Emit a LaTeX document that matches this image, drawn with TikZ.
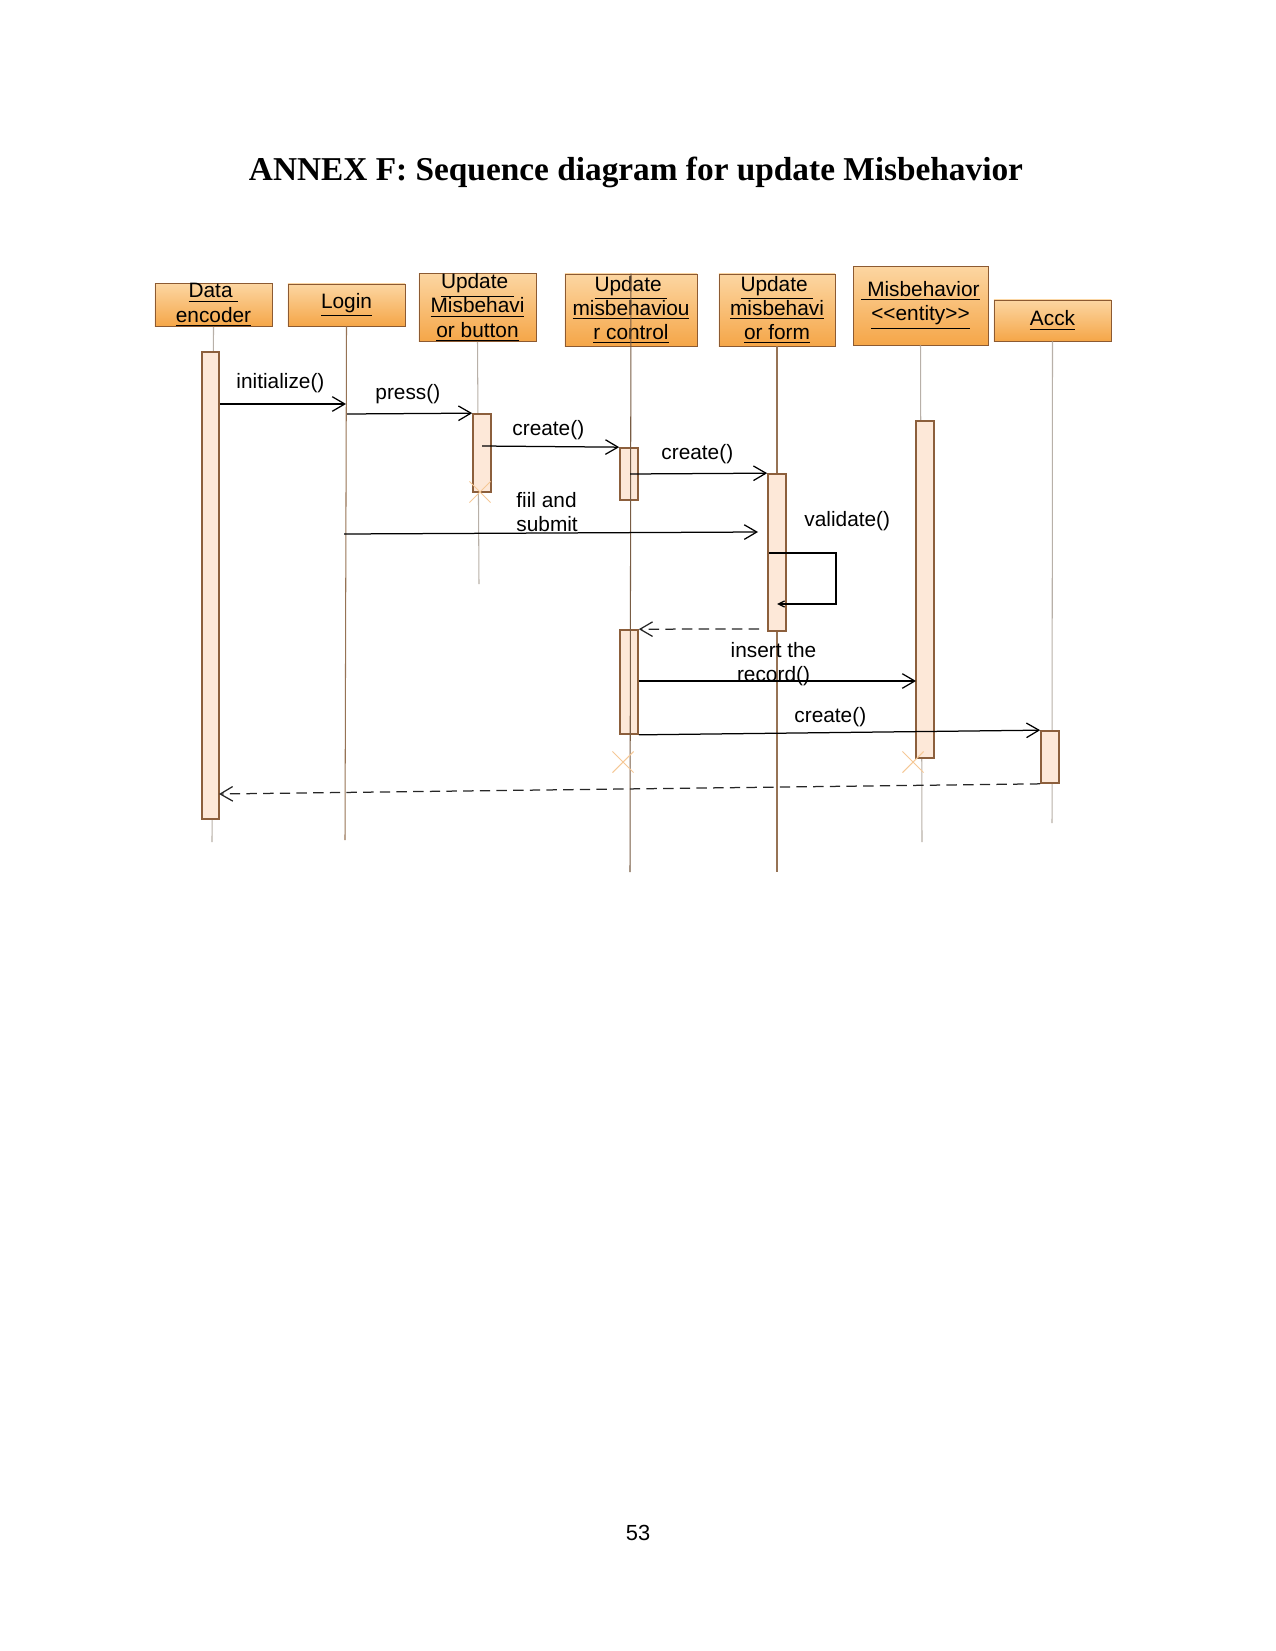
\documentclass[tikz,border=0pt]{standalone}
\usepackage{fontspec}
\setmainfont{Liberation Serif}
\newfontfamily\diafont{Liberation Sans}
\usetikzlibrary{arrows.meta,fit,shapes.misc}

\definecolor{objline}{RGB}{140,90,50}
\definecolor{objtop}{RGB}{252,214,162}
\definecolor{objbot}{RGB}{245,166,72}
\definecolor{actline}{RGB}{140,95,60}
\definecolor{actfill}{RGB}{253,232,216}
\definecolor{lifegrey}{RGB}{184,176,168}
\definecolor{lifebrown}{RGB}{150,115,85}
\definecolor{killmark}{RGB}{245,200,150}

\begin{document}
\begin{tikzpicture}[
  x=0.48pt, y=-0.48pt,
  obj/.style={draw=objline, top color=objtop, bottom color=objbot, inner sep=0pt, align=center, font=\diafont\fontsize{10}{11.6}\selectfont},
  act/.style={draw=actline, fill=actfill, line width=0.8pt, inner sep=0pt},
  life/.style={draw=lifegrey, line width=0.5pt},
  msg/.style={-{Straight Barb[length=6pt,width=7pt]}, line width=0.6pt},
  ret/.style={msg, dash pattern=on 5pt off 3pt, draw=black!85},
  lbl/.style={font=\diafont\fontsize{10}{11.3}\selectfont, inner sep=0pt},
  kill/.style={draw=killmark, cross out, minimum size=9.6pt, inner sep=0pt, line width=0.5pt}
]
\useasboundingbox (0,0) rectangle (1275,1651);

% title and page number
\node[anchor=base, font=\fontsize{16}{19}\selectfont\bfseries] (title) at (636,181) {ANNEX F: Sequence diagram for update Misbehavior};
\node[anchor=base, font=\diafont\fontsize{10.5}{12}\selectfont] (page) at (638,1540) {53};

% objects
\node[obj, minimum width=56.2pt, minimum height=20.2pt] (enc) at (213.5,305) {\underline{Data\ }\\\underline{encoder}};
\node[obj, minimum width=56.2pt, minimum height=20.2pt] (login) at (346.5,305) {\underline{Login}};
\node[obj, minimum width=56.2pt, minimum height=32.2pt] (btn) at (477.5,307.5) {\underline{Update\ }\\\underline{Misbehavi}\\\underline{or button}};
\node[obj, minimum width=63.4pt, minimum height=34.6pt] (ctl) at (631,310) {\underline{Update\ }\\\underline{misbehaviou}\\\underline{r control}};
\node[obj, minimum width=55.7pt, minimum height=34.6pt] (frm) at (777,310) {\underline{Update\ }\\\underline{misbehavi}\\\underline{or form}};
\node[obj, minimum width=64.8pt, minimum height=37.9pt] (ent) at (920.5,305.5) {\underline{\ Misbehavior}\\\underline{<{}<entity>{}>}};
\node[obj, minimum width=56.2pt, minimum height=19.7pt] (ack) at (1052.5,320.5) {\underline{Acck}};

% lifelines
\coordinate (encEnd) at (212,842);
\coordinate (loginEnd) at (345,840);
\coordinate (btnEnd) at (479,584);
\coordinate (ctlEnd) at (630,872);
\coordinate (frmEnd) at (777,872);
\coordinate (entEnd) at (922,842);
\coordinate (ackEnd) at (1052,823);
\draw[life] (enc.south) -- (encEnd);
\draw[life, draw=lifebrown] (login.south) -- (loginEnd);
\draw[life] (btn.south) -- (btnEnd);
\draw[life, draw=lifebrown] (frm.south) -- (frmEnd);
\draw[life] (ent.south) -- (entEnd);
\draw[life] (ack.south) -- (ackEnd);

% activations
\node[act, fit={(202,352) (219,819)}] (encAct) {};
\node[act, fit={(473,414) (491,492)}] (btnAct) {};
\node[act, fit={(620,448) (638,500)}] (ctlAct1) {};
\node[act, fit={(768,474) (786,631)}] (frmAct) {};
\node[act, fit={(620,630) (638,734)}] (ctlAct2) {};
\node[act, fit={(916,421) (934,758)}] (entAct) {};
\node[act, fit={(1041,731) (1059,783)}] (ackAct) {};
\draw[life, draw=lifebrown!80!black] (ctl.north) -- (ctlEnd);

% destroyed
\node[kill] (btnX) at (480,492) {};
\node[kill] (ctlX) at (623,762) {};
\node[kill] (entX) at (913,762) {};

% messages
\coordinate (initEnd) at (346,404);
\coordinate (pressStart) at (347,414);
\coordinate (crt1Start) at (482,446);
\coordinate (crt2Start) at (630,474);
\coordinate (fillStart) at (344,534);
\coordinate (fillEnd) at (758,532);
\coordinate (valStart) at (769,553);
\coordinate (valCorner) at (836,604);
\coordinate (valEnd) at (777,604);
\coordinate (frmRet) at (759,629);
\coordinate (insEnd) at (916,681);
\coordinate (retEnd) at (219,794);
\draw[msg] (encAct.east |- initEnd) -- (initEnd);
\draw[msg] (pressStart) -- (btnAct.north west);
\draw[msg] (crt1Start) -- (ctlAct1.north west);
\draw[msg] (crt2Start) -- (frmAct.north west);
\draw[msg] (fillStart) -- (fillEnd);
\draw[line width=0.6pt, -{Straight Barb[length=3pt,width=3pt]}] (valStart) -| (valCorner) -- (valEnd);
\draw[ret] (frmRet) -- (ctlAct2.north east);
\draw[msg] (ctlAct2.east |- insEnd) -- (insEnd);
\draw[msg] (ctlAct2.south east) -- (ackAct.north west);
\draw[ret] (ackAct.south west) -- (retEnd);

% labels
\node[lbl, anchor=base west] (lInit) at (236,388.5) {initialize()};
\node[lbl, anchor=base west] (lPress) at (375,399.5) {press()};
\node[lbl, anchor=base west] (lCrt1) at (512,435.5) {create()};
\node[lbl, anchor=base west] (lCrt2) at (661,459) {create()};
\node[lbl, anchor=base west, align=left] (lFill) at (516,531.5) {fiil and\\submit};
\node[lbl, anchor=base west] (lVal) at (804,526) {validate()};
\node[lbl, anchor=base, align=center] (lIns) at (773.5,681) {insert the\\record()};
\node[lbl, anchor=base west] (lCrt3) at (794,722) {create()};
\end{tikzpicture}
\end{document}
